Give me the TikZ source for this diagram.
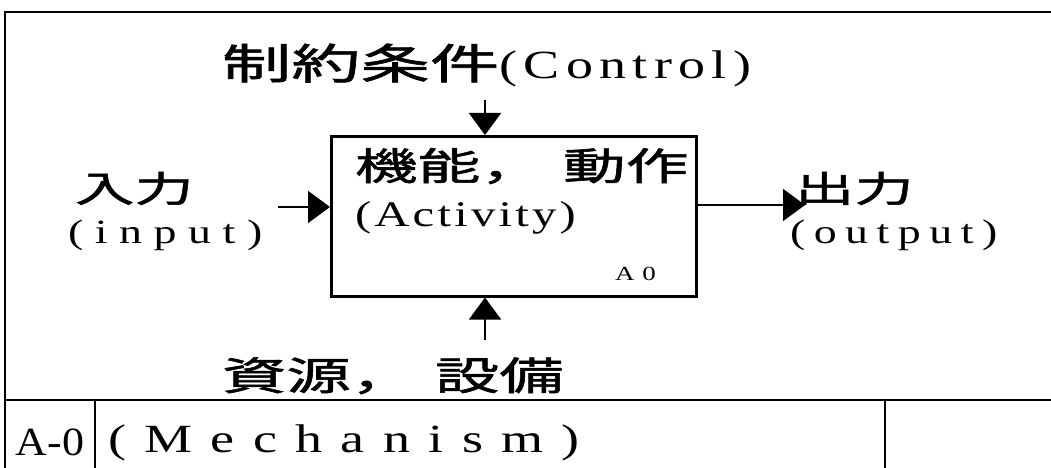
\documentclass[tikz,border=0pt]{standalone}
\usepackage{fontspec}
\usetikzlibrary{arrows.meta}
\newfontfamily\cjk[FakeStretch=1.65,FakeBold=1.5]{Noto Sans CJK JP}
\newfontfamily\lat[FakeStretch=1.35]{Liberation Serif}
\newfontfamily\latn[FakeStretch=1.1]{Liberation Serif}
\newcommand{\fsz}[1]{\fontsize{#1}{#1}\selectfont}
\newcommand{\lsp}[1]{\addfontfeatures{LetterSpace=#1}}
\tikzset{
  frame/.style={line width=2pt},
  fnbox/.style={draw, line width=2.5pt, minimum width=365pt, minimum height=160pt, inner sep=0pt},
  flow/.style={line width=1.8pt, -{Triangle[length=22pt,width=32pt]}},
  lbl/.style={anchor=base west, inner sep=0pt, outer sep=0pt},
}
\begin{document}
\begin{tikzpicture}[x=1pt,y=-1pt]
\useasboundingbox (0,0) rectangle (1051,468);
% frame
\draw[frame] (5,468) -- (5,12) -- (1051,12);
\draw[frame] (5,400) -- (1051,400);
\draw[frame] (95,400) -- (95,468);
\draw[frame] (885,400) -- (885,468);
% activity box
\node[fnbox, anchor=north west] (act) at (330,135) {};
\node[lbl] (acttxt) at (355,180) {\cjk\fsz{38}機能，\hspace{20pt}動作};
\node[lbl] (actlat) at (355,226) {\lat\lsp{9}\fsz{36}(Activity)};
\node[lbl] (a0) at (615,280) {\lat\lsp{40}\fsz{20}A0};
% control
\node[lbl] (ctl) at (222,79) {\cjk\fsz{42}制約条件\lat\lsp{16}\fsz{40}(Control)};
\coordinate (ctlstart) at (485,100);
\draw[flow] (ctlstart) -- (ctlstart |- act.north);
% input
\node[lbl] (intxt) at (75,202) {\cjk\fsz{36}入力};
\node[lbl] (inlat) at (68,243) {\lat\lsp{34}\fsz{34}(input)};
\coordinate (instart) at (278,207);
\draw[flow] (instart) -- (instart -| act.west);
% output
\node[lbl] (outtxt) at (795,202) {\cjk\fsz{36}出力};
\node[lbl] (outlat) at (790,243) {\lat\lsp{25}\fsz{34}(output)};
\coordinate (outend) at (805,205);
\draw[flow] (act.east |- outend) -- (outend);
% mechanism
\node[lbl] (mechtxt) at (222,390) {\cjk\fsz{39}資源，\hspace{20pt}設備};
\coordinate (mechstart) at (485,340);
\draw[flow] (mechstart) -- (mechstart |- act.south);
% bottom row
\node[lbl] (code) at (16,455) {\latn\fsz{40}A-0};
\node[lbl] (mechlat) at (108,452) {\lat\lsp{46}\fsz{40}(Mechanism)};
\end{tikzpicture}
\end{document}
